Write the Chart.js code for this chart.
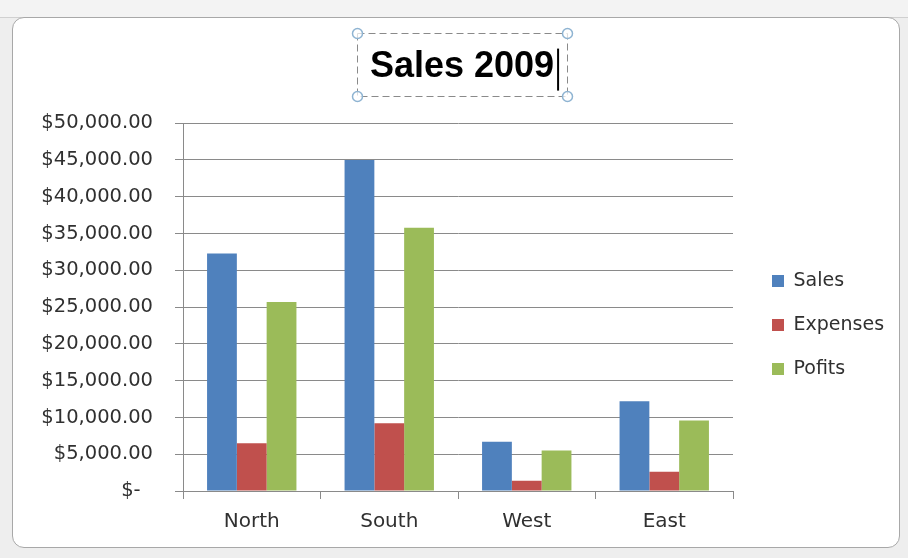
<!DOCTYPE html>
<html>
<head>
<meta charset="utf-8">
<script src="https://cdn.jsdelivr.net/npm/chart.js@4/dist/chart.umd.min.js"></script>
<style>
  html, body { margin: 0; padding: 0; width: 908px; height: 558px; overflow: hidden; background: #eeeeee; }
  #strip { position: absolute; left: 0; top: 0; width: 908px; height: 17px; background: #f3f3f3; border-bottom: 1px solid #d0d0d0; }
  #frame { position: absolute; left: 12px; top: 17px; width: 886px; height: 529px; background: #ffffff; border: 1px solid #a8a8a8; border-radius: 12px; }
  #wrap { position: absolute; left: 0; top: 0; width: 908px; height: 558px; }
</style>
</head>
<body>
<div id="strip"></div>
<div id="frame"></div>
<div id="wrap"><canvas id="c" width="908" height="558"></canvas></div>
<script>
const categories = ['North', 'South', 'West', 'East'];
const sales = [32300, 45000, 6700, 12200];
const expenses = [6500, 9200, 1400, 2600];
const profits = [25700, 35800, 5500, 9600];
const seriesNames = ['Sales', 'Expenses', 'Pofits'];
const yMin = 0, yMax = 50000, yStep = 5000;
const titleText = 'Sales 2009';

const FONT = 'DejaVu Sans';
const TITLE_FONT = 'Liberation Sans';
const gridColor = '#8a8a8a';
const TITLE_SIZE = 36, TITLE_PAD_TOP = 25;

function money(v) {
  if (v === 0) return '$-  ';
  return '$' + v.toLocaleString('en-US', { minimumFractionDigits: 2, maximumFractionDigits: 2 });
}

const titleDeco = {
  id: 'titleDeco',
  afterDraw(chart) {
    const tb = chart.titleBlock;
    if (!tb) return;
    const ctx = chart.ctx;
    ctx.save();
    ctx.font = 'bold ' + TITLE_SIZE + 'px "' + TITLE_FONT + '"';
    const w = ctx.measureText(titleText).width;
    const cx = (tb.left + tb.right) / 2;
    const cy = tb.top + TITLE_PAD_TOP + TITLE_SIZE * 0.6;
    const x0 = Math.round(cx - w / 2 - 13), x1 = Math.round(cx + w / 2 + 13);
    const y0 = Math.round(cy - 34), y1 = Math.round(cy + 29);
    ctx.strokeStyle = '#8a8a8a';
    ctx.lineWidth = 1;
    ctx.setLineDash([7, 4]);
    ctx.strokeRect(x0 + 0.5, y0 + 0.5, x1 - x0, y1 - y0);
    ctx.setLineDash([]);
    ctx.strokeStyle = '#8fb4d2';
    ctx.lineWidth = 1.5;
    ctx.fillStyle = 'rgba(255,255,255,0.7)';
    [[x0, y0], [x1, y0], [x0, y1], [x1, y1]].forEach(([x, y]) => {
      ctx.beginPath();
      ctx.arc(x + 0.5, y + 0.5, 5, 0, Math.PI * 2);
      ctx.fill();
      ctx.stroke();
    });
    ctx.strokeStyle = '#000000';
    ctx.lineWidth = 2;
    ctx.beginPath();
    ctx.moveTo(cx + w / 2 + 4, cy - 18);
    ctx.lineTo(cx + w / 2 + 4, cy + 24);
    ctx.stroke();
    ctx.restore();
  }
};

new Chart(document.getElementById('c'), {
  type: 'bar',
  data: {
    labels: categories,
    datasets: [
      { label: seriesNames[0], data: sales, backgroundColor: '#4F81BD' },
      { label: seriesNames[1], data: expenses, backgroundColor: '#C0504D' },
      { label: seriesNames[2], data: profits, backgroundColor: '#9BBB59' }
    ]
  },
  options: {
    responsive: false,
    animation: false,
    devicePixelRatio: 1,
    layout: { padding: { left: 34.5, right: 18.5, top: 20, bottom: 13 } },
    datasets: { bar: { categoryPercentage: 0.65, barPercentage: 1.0 } },
    plugins: {
      title: {
        display: true,
        text: titleText,
        color: '#000000',
        font: { family: TITLE_FONT, size: TITLE_SIZE, weight: 'bold', lineHeight: 1.2 },
        padding: { top: TITLE_PAD_TOP, bottom: 35 }
      },
      legend: {
        position: 'right',
        title: { display: true, text: ' ', font: { size: 10, lineHeight: 1.2 }, padding: { top: 73, bottom: 0 } },
        labels: {
          boxWidth: 12, boxHeight: 12, padding: 25,
          color: '#303030',
          font: { family: FONT, size: 19 }
        }
      },
      tooltip: { enabled: false }
    },
    scales: {
      x: {
        grid: { display: true, drawOnChartArea: false, drawTicks: true, tickLength: 8, color: gridColor, offset: true },
        border: { display: true, color: gridColor },
        ticks: { color: '#303030', padding: 11, font: { family: FONT, size: 20 } }
      },
      y: {
        min: yMin, max: yMax,
        afterFit(s) { s.width = 148.5; },
        grid: { color: gridColor, tickLength: 8, drawTicks: true },
        border: { display: true, color: gridColor },
        ticks: { stepSize: yStep, color: '#303030', padding: 22, font: { family: FONT, size: 19.5 }, callback: (v) => money(v) }
      },
      gapIn: {
        type: 'linear', position: 'right', display: true, weight: 0,
        afterFit(s) { s.width = 14; },
        grid: { display: false }, border: { display: false }, ticks: { display: false }
      }
    }
  },
  plugins: [titleDeco]
});
</script>
</body>
</html>
